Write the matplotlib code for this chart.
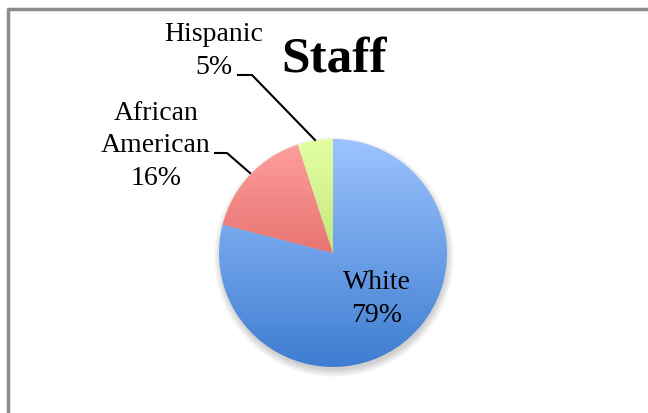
import numpy as np
import matplotlib
matplotlib.use("Agg")
import matplotlib.pyplot as plt
from matplotlib.colors import LinearSegmentedColormap
from matplotlib.patches import Circle

# данные
groups = ["White", "African\nAmerican", "Hispanic"]
shares = [79, 16, 5]
top_colors = ["#9cc3ff", "#ffa09e", "#e2ffa2"]
bottom_colors = ["#3e7dd0", "#d04744", "#a6d05a"]

W, H = 648, 413
fig = plt.figure(figsize=(W / 100, H / 100), dpi=100)
ax = fig.add_axes([0, 0, 1, 1])

cx, cy, r = 333, H - 253, 114

# тень под кругом
for k in range(8):
    ax.add_patch(Circle((cx + 1, cy - 4), r + 6 - k, color="#000000", alpha=0.025, lw=0, zorder=1))

wedges, _ = ax.pie(shares, startangle=90, counterclock=False, center=(cx, cy), radius=r,
                   frame=True, wedgeprops=dict(linewidth=0, alpha=0))

# градиентная заливка каждого сектора
grad = np.linspace(1, 0, 256).reshape(-1, 1)
for w, c_top, c_bot in zip(wedges, top_colors, bottom_colors):
    cmap = LinearSegmentedColormap.from_list("g", [c_bot, c_top])
    im = ax.imshow(grad, cmap=cmap, extent=[cx - r, cx + r, cy - r, cy + r],
                   origin="upper", aspect="auto", zorder=2, vmin=0, vmax=1)
    w.set_alpha(1)
    w.set_facecolor("none")
    im.set_clip_path(w)

ax.set_xlim(0, W)
ax.set_ylim(0, H)
ax.set_aspect("auto")
ax.axis("off")

# рамка
ax.plot([8, 8, W], [0, H - 8.5, H - 8.5], color="#8c8c8c", lw=2.5, zorder=5)

fnt = "Liberation Serif"
ax.text(334, H - 59, "Staff", fontsize=37, fontweight="bold", family=fnt,
        ha="center", va="center", zorder=6)

ax.text(377, H - 299, f"{groups[0]}\n{shares[0]}%", fontsize=20, family=fnt,
        ha="center", va="center", linespacing=1.38, zorder=6)
ax.text(156, H - 146, f"{groups[1]}\n{shares[1]}%", fontsize=20, family=fnt,
        ha="center", va="center", linespacing=1.38, zorder=6)
ax.text(214, H - 51, f"{groups[2]}\n{shares[2]}%", fontsize=20, family=fnt,
        ha="center", va="center", linespacing=1.38, zorder=6)

# выноски
ax.plot([238, 252, 315], [H - 75, H - 75, H - 140], color="black", lw=1.5, zorder=6)
ax.plot([215, 227, 250], [H - 153, H - 153, H - 173], color="black", lw=1.5, zorder=6)

plt.savefig("out.png", dpi=100)
